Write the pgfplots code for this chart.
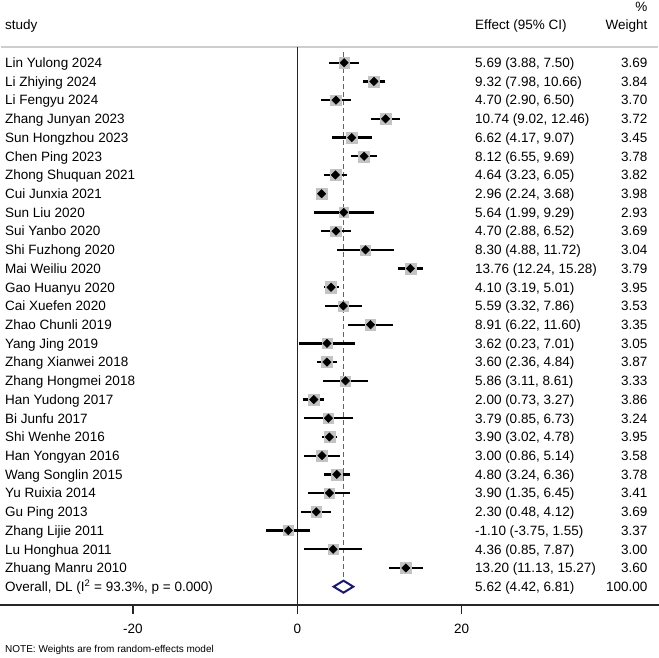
\documentclass[border=0pt]{standalone}
\usepackage{pgfplots}
\usepackage{pgfplotstable}
\pgfplotsset{compat=1.18}
\usepackage{fontspec}
\setmainfont{Liberation Sans}
\definecolor{boxgray}{RGB}{195,195,195}
\definecolor{refred}{RGB}{160,70,85}
\definecolor{navyd}{RGB}{25,25,110}
\definecolor{topgray}{RGB}{205,205,205}

\pgfplotstableread[col sep=semicolon]{
row;est;lo;hi;w;study;ci;wt
1;5.69;3.88;7.50;3.69;Lin Yulong 2024;5.69 (3.88, 7.50);3.69
2;9.32;7.98;10.66;3.84;Li Zhiying 2024;9.32 (7.98, 10.66);3.84
3;4.70;2.90;6.50;3.70;Li Fengyu 2024;4.70 (2.90, 6.50);3.70
4;10.74;9.02;12.46;3.72;Zhang Junyan 2023;10.74 (9.02, 12.46);3.72
5;6.62;4.17;9.07;3.45;Sun Hongzhou 2023;6.62 (4.17, 9.07);3.45
6;8.12;6.55;9.69;3.78;Chen Ping 2023;8.12 (6.55, 9.69);3.78
7;4.64;3.23;6.05;3.82;Zhong Shuquan 2021;4.64 (3.23, 6.05);3.82
8;2.96;2.24;3.68;3.98;Cui Junxia 2021;2.96 (2.24, 3.68);3.98
9;5.64;1.99;9.29;2.93;Sun Liu 2020;5.64 (1.99, 9.29);2.93
10;4.70;2.88;6.52;3.69;Sui Yanbo 2020;4.70 (2.88, 6.52);3.69
11;8.30;4.88;11.72;3.04;Shi Fuzhong 2020;8.30 (4.88, 11.72);3.04
12;13.76;12.24;15.28;3.79;Mai Weiliu 2020;13.76 (12.24, 15.28);3.79
13;4.10;3.19;5.01;3.95;Gao Huanyu 2020;4.10 (3.19, 5.01);3.95
14;5.59;3.32;7.86;3.53;Cai Xuefen 2020;5.59 (3.32, 7.86);3.53
15;8.91;6.22;11.60;3.35;Zhao Chunli 2019;8.91 (6.22, 11.60);3.35
16;3.62;0.23;7.01;3.05;Yang Jing 2019;3.62 (0.23, 7.01);3.05
17;3.60;2.36;4.84;3.87;Zhang Xianwei 2018;3.60 (2.36, 4.84);3.87
18;5.86;3.11;8.61;3.33;Zhang Hongmei 2018;5.86 (3.11, 8.61);3.33
19;2.00;0.73;3.27;3.86;Han Yudong 2017;2.00 (0.73, 3.27);3.86
20;3.79;0.85;6.73;3.24;Bi Junfu 2017;3.79 (0.85, 6.73);3.24
21;3.90;3.02;4.78;3.95;Shi Wenhe 2016;3.90 (3.02, 4.78);3.95
22;3.00;0.86;5.14;3.58;Han Yongyan 2016;3.00 (0.86, 5.14);3.58
23;4.80;3.24;6.36;3.78;Wang Songlin 2015;4.80 (3.24, 6.36);3.78
24;3.90;1.35;6.45;3.41;Yu Ruixia 2014;3.90 (1.35, 6.45);3.41
25;2.30;0.48;4.12;3.69;Gu Ping 2013;2.30 (0.48, 4.12);3.69
26;-1.10;-3.75;1.55;3.37;Zhang Lijie 2011;-1.10 (-3.75, 1.55);3.37
27;4.36;0.85;7.87;3.00;Lu Honghua 2011;4.36 (0.85, 7.87);3.00
28;13.20;11.13;15.27;3.60;Zhuang Manru 2010;13.20 (11.13, 15.27);3.60
29;5.62;4.42;6.81;100.00;Overall, DL (I\textsuperscript{2} = 93.3\%, p = 0.000);5.62 (4.42, 6.81);100.00
}\studies

\begin{document}
\begin{tikzpicture}
\useasboundingbox (0pt,-53pt) rectangle (659pt,605pt);
\begin{axis}[
  at={(0pt,0pt)}, anchor=south west,
  scale only axis, width=659pt, height=558pt,
  xmin=-36.17, xmax=44.0,
  ymin=0.161, ymax=29.98, y dir=reverse,
  axis x line*=bottom, axis y line=none,
  x axis line style={-, line width=1.1pt, black!85},
  xtick={-20,0,20}, ytick=\empty,
  tick align=outside, major tick length=9pt,
  xtick style={line width=1.2pt, black!85},
  /pgf/number format/assume math mode=true,
  xticklabel style={font=\fontsize{13.5}{16}\selectfont, anchor=base, yshift=-19pt},
  clip=false,
  every node near coord/.append style={font=\fontsize{13.5}{16}\selectfont, inner sep=0pt, text=black},
]
% top gray rule
\addplot[topgray, line width=2pt] coordinates {(-36.0,0.161) (43.9,0.161)};
% zero line
\addplot[black!85, line width=1.2pt] coordinates {(0,0.161) (0,29.98)};
% reference dashed line
\addplot[refred, line width=1.3pt, dash pattern=on 5pt off 3pt] coordinates {(5.62,0.43) (5.62,28.68)};
% weight boxes
\addplot[scatter, only marks, mark=square*, point meta=\thisrow{w},
  mark options={draw=boxgray, fill=boxgray},
  scatter/use mapped color={draw=boxgray, fill=boxgray},
  visualization depends on={2.8*sqrt(\thisrow{w}) \as \msize},
  scatter/@pre marker code/.append style={/tikz/mark size=\msize},
  skip coords between index={28}{29}]
  table[x=est, y=row] {\studies};
% CIs
\addplot[only marks, mark=none,
  error bars/.cd, x dir=both, x explicit, error mark=none,
  error bar style={line width=2.3pt, black}]
  table[x=est, y=row, x error minus expr=\thisrow{est}-\thisrow{lo},
        x error plus expr=\thisrow{hi}-\thisrow{est},
        skip coords between index={28}{29}] {\studies};
% point estimates
\addplot[only marks, mark=square*, mark size=3.0pt, mark options={rotate=45, fill=black, draw=none},
  skip coords between index={28}{29}]
  table[x=est, y=row] {\studies};
% overall diamond
\addplot[navyd, line width=2pt, line join=miter] coordinates {(4.42,29) (5.62,28.68) (6.81,29) (5.62,29.32) (4.42,29) (5.62,28.68)};
% texts
\addplot[only marks, mark=*, mark size=0pt, mark options={draw=none, fill=none},
  nodes near coords, point meta=explicit symbolic,
  nodes near coords style={anchor=base west, yshift=-4.8pt}]
  table[x expr=-35.56, y=row, meta=study] {\studies};
\addplot[only marks, mark=*, mark size=0pt, mark options={draw=none, fill=none},
  nodes near coords, point meta=explicit symbolic,
  nodes near coords style={anchor=base west, yshift=-4.8pt}]
  table[x expr=21.62, y=row, meta=ci] {\studies};
\addplot[only marks, mark=*, mark size=0pt, mark options={draw=none, fill=none},
  nodes near coords, point meta=explicit symbolic,
  nodes near coords style={anchor=base east, yshift=-4.8pt}]
  table[x expr=42.6, y=row, meta=wt] {\studies};
% headers
\node[anchor=base west, inner sep=0pt, font=\fontsize{13.5}{16}\selectfont] at (axis cs:-35.56,-0.75) {study};
\node[anchor=base west, inner sep=0pt, font=\fontsize{13.5}{16}\selectfont] at (axis cs:21.62,-0.75) {Effect (95\% CI)};
\node[anchor=base east, inner sep=0pt, font=\fontsize{13.5}{16}\selectfont] at (axis cs:42.6,-0.75) {Weight};
\node[anchor=base east, inner sep=0pt, font=\fontsize{13.5}{16}\selectfont] at (axis cs:42.6,-1.74) {\%};
\node[anchor=base west, inner sep=0pt, font=\fontsize{10}{12}\selectfont] at (axis cs:-35.56,32.5) {NOTE: Weights are from random-effects model};
\end{axis}
\end{tikzpicture}
\end{document}
